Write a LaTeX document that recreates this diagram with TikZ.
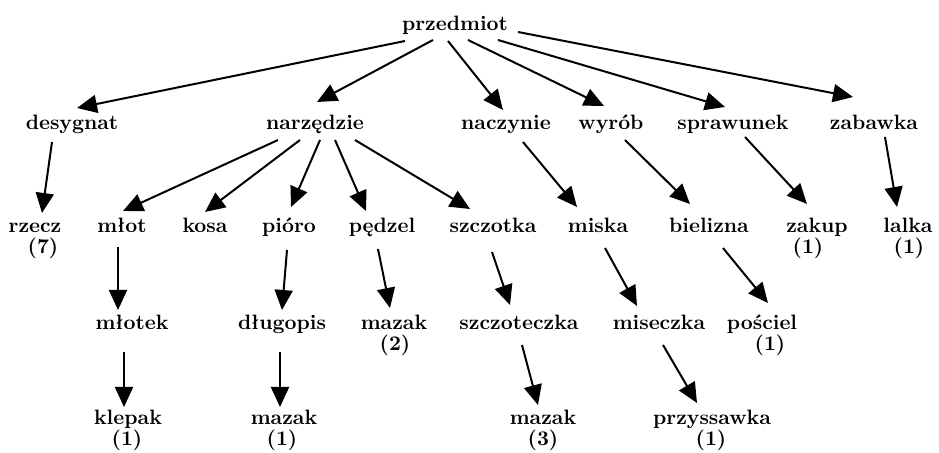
\documentclass[tikz,border=0pt]{standalone}
\usetikzlibrary{arrows.meta,calc}
\begin{document}
\begin{tikzpicture}[x=0.5pt,y=-0.5pt,
  word/.style={inner sep=0pt,anchor=base,font=\fontsize{10.4pt}{12pt}\selectfont\bfseries},
  arr/.style={line width=1pt,-{Triangle[length=10pt,width=9pt]}}]
\useasboundingbox (0,0) rectangle (939,453);
% row 0
\node[word] (przedmiot) at (455,31) {przedmiot};
% row 1
\node[word] (desygnat) at (72,130) {desygnat};
\node[word] (narz) at (315,130) {narzędzie};
\node[word] (naczynie) at (506,130) {naczynie};
\node[word] (wyrob) at (611,130) {wyrób};
\node[word] (sprawunek) at (733,130) {sprawunek};
\node[word] (zabawka) at (874,130) {zabawka};
% row 2
\node[word] (rzecz) at (35,233) {rzecz};
\node[word] (rzeczN) at (43,254) {(7)};
\node[word] (mlot) at (122,233) {młot};
\node[word] (kosa) at (205,233) {kosa};
\node[word] (pioro) at (289,233) {pióro};
\node[word] (pedzel) at (382,233) {pędzel};
\node[word] (szczotka) at (493,233) {szczotka};
\node[word] (miska) at (598,233) {miska};
\node[word] (bielizna) at (709,233) {bielizna};
\node[word] (zakup) at (817,233) {zakup};
\node[word] (zakupN) at (808,254) {(1)};
\node[word] (lalka) at (908,233) {lalka};
\node[word] (lalkaN) at (909,254) {(1)};
% row 3
\node[word] (mlotek) at (132,330) {młotek};
\node[word] (dlugopis) at (282,330) {długopis};
\node[word] (mazakA) at (394,330) {mazak};
\node[word] (mazakAN) at (395,351) {(2)};
\node[word] (szczoteczka) at (519,330) {szczoteczka};
\node[word] (miseczka) at (659,330) {miseczka};
\node[word] (posciel) at (762,330) {pościel};
\node[word] (poscielN) at (770,351) {(1)};
% row 4
\node[word] (klepak) at (128,425) {klepak};
\node[word] (klepakN) at (127,446) {(1)};
\node[word] (mazakB) at (284,425) {mazak};
\node[word] (mazakBN) at (282,446) {(1)};
\node[word] (mazakC) at (543,425) {mazak};
\node[word] (mazakCN) at (543,446) {(3)};
\node[word] (przyssawka) at (712,425) {przyssawka};
\node[word] (przyssawkaN) at (711,446) {(1)};
% arrows from przedmiot
\draw[arr] ($(przedmiot.base)+(-50,10)$) -- ($(desygnat.base)+(5,-22)$);
\draw[arr] ($(przedmiot.base)+(-22,9)$) -- ($(narz.base)+(2,-28)$);
\draw[arr] ($(przedmiot.base)+(-7,10)$) -- ($(naczynie.base)+(-3,-20)$);
\draw[arr] ($(przedmiot.base)+(13,9)$) -- ($(wyrob.base)+(-7,-24)$);
\draw[arr] ($(przedmiot.base)+(43,9)$) -- ($(sprawunek.base)+(-8,-23)$);
\draw[arr] ($(przedmiot.base)+(63,1)$) -- ($(zabawka.base)+(-21,-33)$);
% row 1 -> row 2
\draw[arr] ($(desygnat.base)+(-20,12)$) -- ($(rzecz.base)+(7,-20)$);
\draw[arr] ($(narz.base)+(-37,10)$) -- ($(mlot.base)+(1,-22)$);
\draw[arr] ($(narz.base)+(-15,10)$) -- ($(kosa.base)+(0,-21)$);
\draw[arr] ($(narz.base)+(5,10)$) -- ($(pioro.base)+(2,-26)$);
\draw[arr] ($(narz.base)+(20,10)$) -- ($(pedzel.base)+(-16,-22)$);
\draw[arr] ($(narz.base)+(40,10)$) -- ($(szczotka.base)+(-23,-24)$);
\draw[arr] ($(naczynie.base)+(17,12)$) -- ($(miska.base)+(-21,-26)$);
\draw[arr] ($(wyrob.base)+(14,10)$) -- ($(bielizna.base)+(-19,-29)$);
\draw[arr] ($(sprawunek.base)+(12,7)$) -- ($(zakup.base)+(-10,-29)$);
\draw[arr] ($(zabawka.base)+(11,7)$) -- ($(lalka.base)+(-11,-26)$);
% row 2 -> row 3
\draw[arr] ($(mlot.base)+(-4,14)$) -- ($(mlotek.base)+(-14,-20)$);
\draw[arr] ($(pioro.base)+(-2,17)$) -- ($(dlugopis.base)+(0,-20)$);
\draw[arr] ($(pedzel.base)+(-4,16)$) -- ($(mazakA.base)+(-4,-22)$);
\draw[arr] ($(szczotka.base)+(-1,19)$) -- ($(szczoteczka.base)+(-9,-25)$);
\draw[arr] ($(miska.base)+(7,15)$) -- ($(miseczka.base)+(-22,-24)$);
\draw[arr] ($(bielizna.base)+(14,15)$) -- ($(posciel.base)+(6,-27)$);
% row 3 -> row 4
\draw[arr] ($(mlotek.base)+(-8,22)$) -- ($(klepak.base)+(-4,-18)$);
\draw[arr] ($(dlugopis.base)+(-2,22)$) -- ($(mazakB.base)+(-4,-18)$);
\draw[arr] ($(szczoteczka.base)+(3,15)$) -- ($(mazakC.base)+(-5,-20)$);
\draw[arr] ($(miseczka.base)+(4,15)$) -- ($(przyssawka.base)+(-15,-22)$);
\end{tikzpicture}
\end{document}
